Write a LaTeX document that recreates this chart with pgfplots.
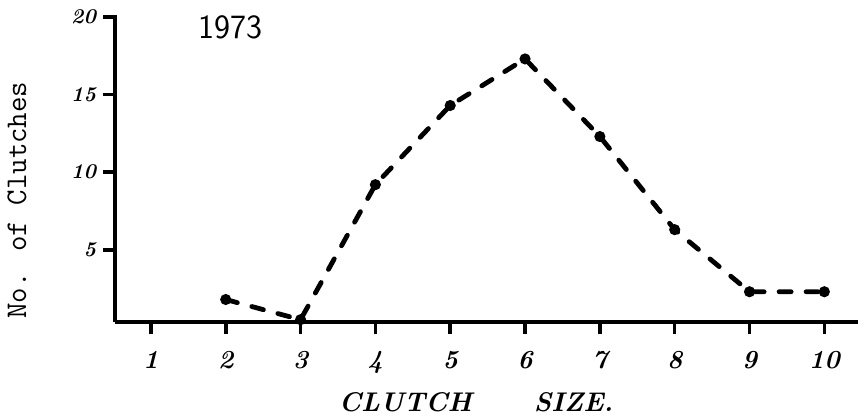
\documentclass[border=0pt]{standalone}
\usepackage{pgfplots}
\pgfplotsset{compat=1.18}
\begin{document}
\begin{tikzpicture}
\begin{axis}[
  scale only axis,
  width=371.5pt, height=153.5pt,
  xmin=0.52, xmax=10.45,
  ymin=0.35, ymax=20.13,
  axis lines*=left,
  axis line style={-, line width=2.2pt, black},
  xtick={1,2,3,4,5,6,7,8,9,10},
  ytick={5,10,15,20},
  tick align=outside,
  xtick pos=bottom, ytick pos=left,
  major tick length=6pt,
  tick style={line width=1.8pt, black},
  /pgf/number format/assume math mode=true,
  xticklabel style={font=\bfseries\itshape\fontsize{13}{13}\selectfont, yshift=-5pt},
  yticklabel style={font=\bfseries\itshape\fontsize{10.5}{10.5}\selectfont, xshift=0pt},
  xlabel={CLUTCH\hspace{31pt}SIZE.},
  x label style={at={(axis description cs:0.486,-0.262)}, anchor=center, font=\bfseries\itshape\fontsize{13.5}{13.5}\selectfont},
  ylabel={No. of Clutches},
  y label style={at={(axis description cs:-0.132,0.397)}, anchor=center, rotate=0, font=\ttfamily\fontsize{15}{15}\selectfont},
  clip=false,
]
\addplot[black, line width=2.4pt, dash pattern=on 6pt off 7.5pt, line cap=round,
  mark=*, mark size=1.5pt, mark options={solid}]
  coordinates {(2,1.8) (3,0.5) (4,9.2) (5,14.3) (6,17.3) (7,12.3) (8,6.3) (9,2.3) (10,2.3)};
\node[font=\sffamily\fontsize{17}{17}\selectfont] at (axis cs:2.06,19.36) {1973};
\end{axis}
\pgfresetboundingbox
\path[use as bounding box] ([xshift=-57.5pt,yshift=-48.5pt]current axis.south west) rectangle ([yshift=7.5pt]current axis.north east);
\end{tikzpicture}
\end{document}
